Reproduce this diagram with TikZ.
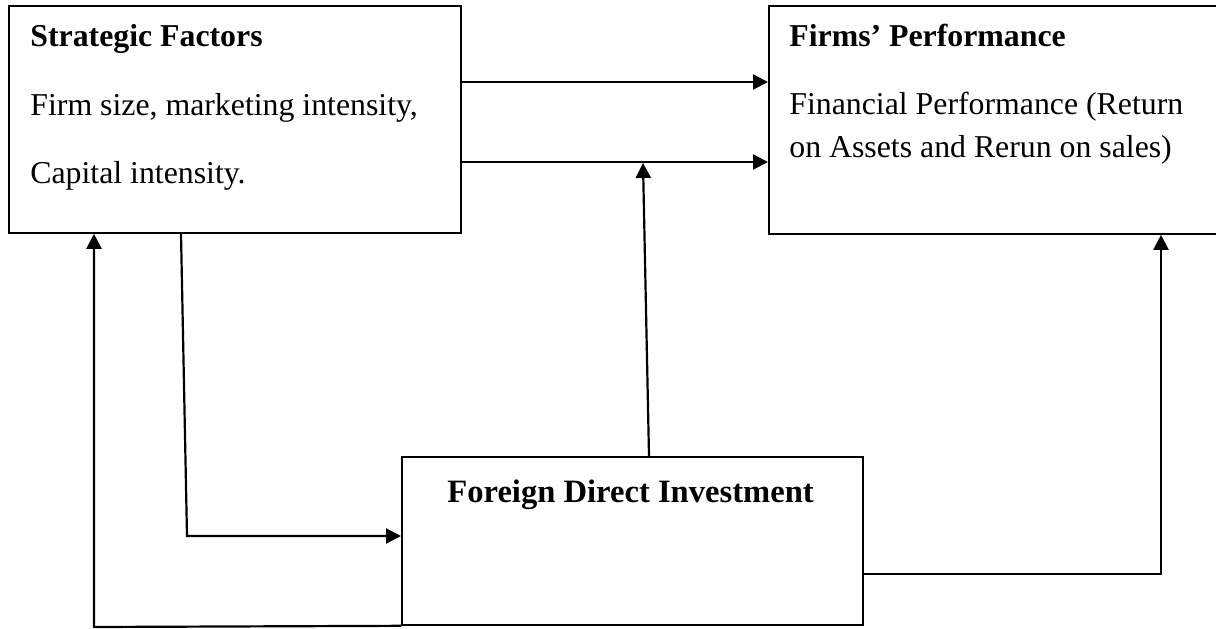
\documentclass[tikz,border=0pt]{standalone}
\usepackage{fontspec}
\setmainfont{Liberation Serif}
\usetikzlibrary{arrows.meta}
\begin{document}
\begin{tikzpicture}[x=0.5pt,y=-0.5pt,
  box/.style={draw, line width=0.9pt, rectangle, inner sep=0pt, anchor=north west},
  lbl/.style={anchor=base west, inner sep=0pt, font=\fontsize{15.9pt}{19pt}\selectfont},
  ttl/.style={anchor=base west, inner sep=0pt, font=\fontsize{16.3pt}{20pt}\selectfont\bfseries},
  arr/.style={-{Triangle[length=7.5pt,width=7.5pt]}, line width=1.1pt},
  ln/.style={line width=1.1pt}]
\useasboundingbox (0,0) rectangle (1216,628);
% boxes
\node[box, minimum width=226pt, minimum height=113.5pt] (SF) at (8,5) {};
\node[box, minimum width=226pt, minimum height=114pt] (FP) at (768,5) {};
\node[box, minimum width=230.5pt, minimum height=84pt] (FDI) at (401,456) {};
% texts
\node[lbl] (sf1) at (30,46) {\textbf{Strategic Factors}};
\node[lbl] (sf2) at (30,115) {Firm size, marketing intensity,};
\node[lbl] (sf3) at (30,183) {Capital intensity.};
\node[lbl] (fp1) at (789,46) {\textbf{Firms’ Performance}};
\node[lbl] (fp2) at (789,114) {Financial Performance (Return};
\node[lbl] (fp3) at (789,157) {on Assets and Rerun on sales)};
\node[ttl] (fdi1) at (447,502) {Foreign Direct Investment};
% helper coordinates
\coordinate (y1) at (0,82);
\coordinate (y2) at (0,162);
\coordinate (pA) at (187,536);
\coordinate (pB) at (94,627);
\coordinate (pC) at (1161,574);
% connectors
\draw[arr] (SF.east |- y1) -- (FP.west |- y1);
\draw[arr] (SF.east |- y2) -- (FP.west |- y2);
\draw[arr] (FDI.north -| 649,0) -- (643,163);
\draw[arr] (SF.south -| 181,0) -- (pA) -- (FDI.west |- pA);
\draw[arr] (FDI.south west) -- (pB) -- (SF.south -| pB);
\draw[arr] (FDI.east |- pC) -- (pC) -- (FP.south -| pC);
\end{tikzpicture}
\end{document}
